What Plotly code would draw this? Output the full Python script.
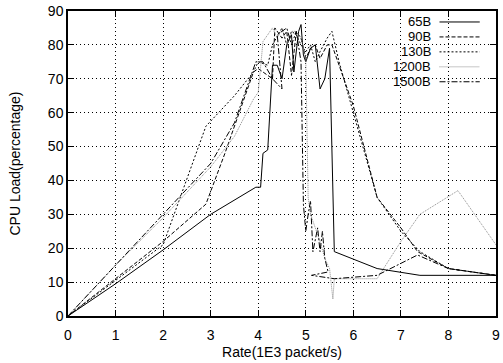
import plotly.graph_objects as go

# ---- data ----
series_names = ["65B", "90B", "130B", "1200B", "1500B"]

x_65 = [0, 1, 2, 3, 3.95, 4.05, 4.1, 4.2, 4.3, 4.4, 4.5, 4.6, 4.7, 4.75, 4.85, 4.9, 4.95, 5.0, 5.1, 5.2, 5.3, 5.4, 5.5, 5.6, 6.5, 7.4, 9.0]
y_65 = [0, 9.5, 19.5, 30, 38, 38, 48, 49, 74, 74, 70, 80, 83, 72, 84, 86, 77, 75, 79, 80, 67, 70, 79, 19, 14, 12, 12]

x_90 = [0, 1, 2, 2.9, 3.3, 3.9, 4.0, 4.3, 4.35, 4.5, 4.6, 4.7, 4.8, 4.9, 5.0, 5.1, 5.2, 5.3, 5.45, 5.55, 6.0, 6.5, 7.0, 7.35, 8.0, 9.0]
y_90 = [0, 11, 22, 33, 48, 72, 73, 70, 85, 82, 84, 71, 84, 82, 76, 79, 80, 76, 80, 80, 62, 35, 26, 19, 14, 12]

x_130 = [0, 1, 2, 2.9, 3.5, 3.9, 4.0, 4.2, 4.3, 4.5, 4.6, 4.7, 4.8, 4.9, 5.0, 5.1, 5.2, 5.3, 5.45, 5.55, 5.7, 6.0, 6.5, 7.0, 7.4, 8.0, 9.0]
y_130 = [0, 10.5, 21, 56, 65, 72, 75, 74, 80, 85, 80, 84, 83, 80, 78, 80, 75, 78, 82, 84, 75, 60, 35, 25, 19, 14, 12]

x_1200 = [0, 1, 2, 3, 3.5, 3.9, 4.0, 4.1, 4.3, 4.4, 4.5, 4.6, 4.7, 4.8, 4.9, 5.0, 5.05, 5.1, 5.2, 5.3, 5.4, 5.5, 5.57, 5.6, 6.0, 6.5, 7.0, 7.4, 8.2, 9.0]
y_1200 = [0, 15, 29, 44, 53, 64, 66, 81, 85, 82, 85, 80, 84, 84, 82, 76, 35, 30, 26, 22, 17, 14, 5, 11, 11, 11, 22, 30, 37, 21]

x_1500 = [0, 1, 2, 3, 3.5, 3.95, 4.1, 4.3, 4.5, 4.4, 4.6, 4.7, 4.8, 4.9, 4.95, 5.0, 5.05, 5.1, 5.15, 5.25, 5.3, 5.35, 5.4, 5.47, 5.12, 5.6, 6.5, 7.35, 8.0, 9.0]
y_1500 = [0, 15, 30, 45, 57, 75, 75, 70, 67, 83, 85, 80, 84, 75, 33, 25, 30, 34, 19, 26, 19, 25, 17, 13, 12, 11, 12, 18, 14, 12]

x_ticks = list(range(0, 10))
y_ticks = list(range(0, 100, 10))

colors = ["#000000", "#000000", "#000000", "#8c8c8c", "#000000"]
dashes = ["solid", "4px,2px", "2px,2px", "1px,1px", "6px,2px,2px,2px"]

xs = [x_65, x_90, x_130, x_1200, x_1500]
ys = [y_65, y_90, y_130, y_1200, y_1500]

FONT = "Liberation Sans, Arial, Helvetica, sans-serif"

fig = go.Figure()
for name, x, y, c, d in zip(series_names, xs, ys, colors, dashes):
    fig.add_trace(go.Scatter(x=x, y=y, mode="lines", name=name,
                             line=dict(color=c, width=1, dash=d),
                             showlegend=False))

# custom gnuplot-style legend (text, then line sample), white background
shapes = [dict(type="rect", xref="paper", yref="paper", x0=0.74, x1=0.975,
               y0=0.735, y1=0.99, fillcolor="white", line=dict(width=0), layer="between")]
annotations = []
row_y = [0.964, 0.915, 0.866, 0.817, 0.768]
for name, c, d, ry in zip(series_names, colors, dashes, row_y):
    annotations.append(dict(xref="paper", yref="paper", x=0.851, y=ry, text=name,
                            showarrow=False, xanchor="right", yanchor="middle",
                            borderpad=0, font=dict(family=FONT, size=13, color="black")))
    shapes.append(dict(type="line", xref="paper", yref="paper", x0=0.868, x1=0.962,
                       y0=ry, y1=ry, line=dict(color=c, width=1, dash=d), layer="above"))

axis_common = dict(showline=True, linecolor="black", linewidth=1.5, mirror="ticks",
                   ticks="inside", ticklen=6, tickwidth=1, tickcolor="black",
                   showgrid=True, gridcolor="black", gridwidth=1, griddash="1px,3px",
                   zeroline=False, tickfont=dict(family=FONT, size=14, color="black"))

fig.update_layout(
    width=503, height=363,
    margin=dict(l=68, r=3, t=11, b=47),
    paper_bgcolor="white", plot_bgcolor="white",
    shapes=shapes, annotations=annotations,
    xaxis=dict(range=[0, 9], tickvals=x_ticks, ticktext=[str(v) for v in x_ticks],
               ticklabelstandoff=5,
               title=dict(text="Rate(1E3 packet/s)", font=dict(family=FONT, size=14, color="black"), standoff=6),
               **axis_common),
    yaxis=dict(range=[0, 90], tickvals=y_ticks, ticktext=[str(v) for v in y_ticks],
               title=dict(text="CPU Load(percentage)", font=dict(family=FONT, size=14, color="black"), standoff=24),
               **axis_common),
)

fig.write_html("out.html")
